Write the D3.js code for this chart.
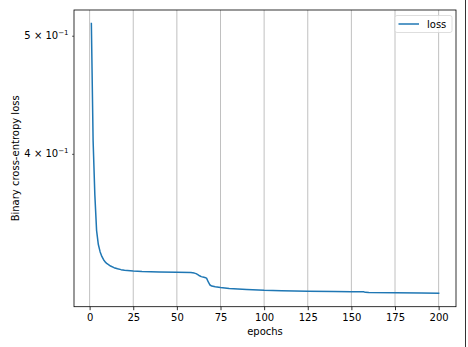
<!DOCTYPE html>
<html>
<head>
<meta charset="utf-8">
<script src="https://cdn.jsdelivr.net/npm/d3@7"></script>
<style>
  body { margin: 0; background: #fff; }
  svg { display: block; font-family: "DejaVu Sans", sans-serif; }
</style>
</head>
<body>
<svg id="chart" width="468" height="347"></svg>
<script>
// epochs (denser where the curve bends)
const epochs = [1, 2, 3, 4, 5, 6, 7, 8, 9, 10, 12, 14, 16, 18, 20, 25, 30, 40, 50, 58,
  60, 61, 62, 63, 64, 65, 66, 67, 68, 69, 70, 72, 75, 80, 90, 100, 110, 125, 140, 150,
  157, 158, 160, 175, 190, 200];
const loss = [0.5117, 0.410, 0.370, 0.346, 0.337, 0.3325, 0.3295, 0.3275, 0.326, 0.3250,
  0.3236, 0.3226, 0.3219, 0.3214, 0.3211, 0.3206, 0.3203, 0.3200, 0.3198, 0.3196,
  0.3193, 0.3190, 0.3184, 0.3177, 0.3172, 0.3169, 0.3167, 0.3163, 0.3140, 0.3122,
  0.3116, 0.3112, 0.3107, 0.3102, 0.3096, 0.3091, 0.3089, 0.3086, 0.3084, 0.3083,
  0.3082, 0.3079, 0.3078, 0.3076, 0.3075, 0.3074];
const xTicks = [0, 25, 50, 75, 100, 125, 150, 175, 200];
const yTicks = [0.4, 0.5];
const yTickMant = ["4", "5"];
const seriesName = "loss";

const svg = d3.select("#chart");
const plot = { left: 74, top: 10, right: 456, bottom: 306.7 };

// matplotlib-ish 5% margins
const xExt = d3.extent(epochs);
const xPad = (xExt[1] - xExt[0]) * 0.05;
const x = d3.scaleLinear()
  .domain([xExt[0] - xPad, xExt[1] + xPad])
  .range([plot.left, plot.right]);

const lExt = d3.extent(loss).map(Math.log10);
const lPad = (lExt[1] - lExt[0]) * 0.05;
const y = d3.scaleLog()
  .domain([Math.pow(10, lExt[0] - lPad), Math.pow(10, lExt[1] + lPad)])
  .range([plot.bottom, plot.top]);

// vertical grid
svg.append("g")
  .selectAll("line")
  .data(xTicks)
  .join("line")
  .attr("x1", d => x(d)).attr("x2", d => x(d))
  .attr("y1", plot.top).attr("y2", plot.bottom)
  .attr("stroke", "#b0b0b0")
  .attr("stroke-width", 0.8);

// x axis
const xAxis = svg.append("g")
  .attr("transform", `translate(0,${plot.bottom})`)
  .call(d3.axisBottom(x).tickValues(xTicks).tickSize(3.5).tickPadding(3.5).tickFormat(d3.format("d")));
xAxis.select(".domain").remove();
xAxis.selectAll("line").attr("stroke", "#000").attr("stroke-width", 0.8);
xAxis.selectAll("text").attr("font-size", 10).attr("fill", "#000")
  .attr("font-family", "DejaVu Sans");

// y axis (minor ticks with labels like 5 × 10^-1)
const yAxis = svg.append("g")
  .attr("transform", `translate(${plot.left},0)`)
  .call(d3.axisLeft(y).tickValues(yTicks).tickSize(2).tickFormat(""));
yAxis.select(".domain").remove();
yAxis.selectAll("line").attr("stroke", "#000").attr("stroke-width", 0.6);

const yLab = svg.append("g")
  .selectAll("text")
  .data(yTicks)
  .join("text")
  .attr("x", plot.left - 5.5)
  .attr("y", d => y(d) + 3.5)
  .attr("text-anchor", "end")
  .attr("font-size", 10)
  .attr("fill", "#000");
yLab.append("tspan").text((d, i) => yTickMant[i] + " \u00d7 10");
yLab.append("tspan").attr("font-size", 7).attr("dy", -4.5).text("\u22121");

// spines
svg.append("rect")
  .attr("x", plot.left).attr("y", plot.top)
  .attr("width", plot.right - plot.left).attr("height", plot.bottom - plot.top)
  .attr("fill", "none").attr("stroke", "#000").attr("stroke-width", 0.8);

// the series line
const line = d3.line()
  .x((d, i) => x(epochs[i]))
  .y(d => y(d));
svg.append("path")
  .datum(loss)
  .attr("d", line)
  .attr("fill", "none")
  .attr("stroke", "#1f77b4")
  .attr("stroke-width", 1.5)
  .attr("stroke-linejoin", "round")
  .attr("stroke-linecap", "square");

// axis titles
svg.append("text")
  .attr("x", (plot.left + plot.right) / 2)
  .attr("y", 335)
  .attr("text-anchor", "middle")
  .attr("font-size", 10)
  .text("epochs");
svg.append("text")
  .attr("transform", `translate(19,${(plot.top + plot.bottom) / 2}) rotate(-90)`)
  .attr("text-anchor", "middle")
  .attr("font-size", 10)
  .text("Binary cross-entropy loss");

// legend
const lg = svg.append("g").attr("transform", "translate(395,15.5)");
lg.append("rect")
  .attr("width", 57).attr("height", 17).attr("rx", 2)
  .attr("fill", "#fff").attr("fill-opacity", 0.8)
  .attr("stroke", "#d6d6d6").attr("stroke-width", 0.8);
lg.append("line")
  .attr("x1", 3.5).attr("x2", 24).attr("y1", 8.5).attr("y2", 8.5)
  .attr("stroke", "#1f77b4").attr("stroke-width", 1.5);
lg.append("text")
  .attr("x", 32).attr("y", 12)
  .attr("font-size", 10)
  .text(seriesName);

// frame edge on the right of the screenshot
svg.append("line")
  .attr("x1", 465.5).attr("x2", 465.5).attr("y1", 0).attr("y2", 347)
  .attr("stroke", "#333").attr("stroke-width", 1);
</script>
</body>
</html>
